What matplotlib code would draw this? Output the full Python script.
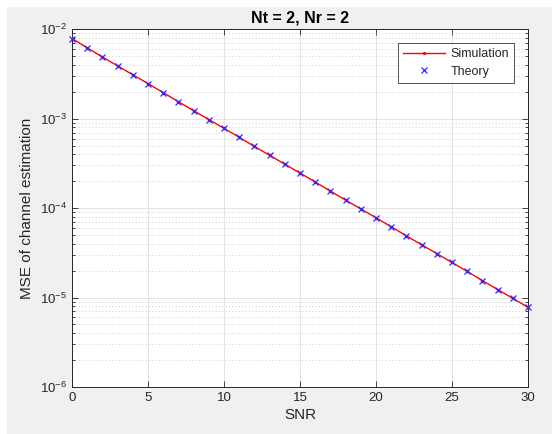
import matplotlib
matplotlib.use("Agg")
import matplotlib.pyplot as plt
from matplotlib.patches import Rectangle
from matplotlib.ticker import LogLocator, NullFormatter, FixedLocator

plt.rcParams['font.family'] = ['Liberation Sans', 'DejaVu Sans']

snr = list(range(0, 31))
sim = [7.9e-3, 6.2e-3, 4.9e-3, 3.9e-3, 3.1e-3, 2.47e-3, 1.96e-3, 1.55e-3, 1.23e-3, 9.8e-4,
       7.8e-4, 6.2e-4, 4.9e-4, 3.9e-4, 3.1e-4, 2.47e-4, 1.96e-4, 1.55e-4, 1.23e-4, 9.8e-5,
       7.8e-5, 6.2e-5, 4.9e-5, 3.9e-5, 3.1e-5, 2.47e-5, 1.96e-5, 1.55e-5, 1.23e-5, 9.8e-6,
       7.8e-6]
theory = [7.8e-3, 6.2e-3, 4.9e-3, 3.9e-3, 3.1e-3, 2.47e-3, 1.96e-3, 1.55e-3, 1.23e-3, 9.8e-4,
          7.8e-4, 6.2e-4, 4.9e-4, 3.9e-4, 3.1e-4, 2.47e-4, 1.96e-4, 1.55e-4, 1.23e-4, 9.8e-5,
          7.8e-5, 6.2e-5, 4.9e-5, 3.9e-5, 3.1e-5, 2.47e-5, 1.96e-5, 1.55e-5, 1.23e-5, 9.8e-6,
          7.8e-6]
xticks = [0, 5, 10, 15, 20, 25, 30]

W, H = 552, 434
fig = plt.figure(figsize=(W / 100, H / 100), dpi=100, facecolor='#f0f0f0')
# white borders on left and top
fig.patches.append(Rectangle((0, 0), 6 / W, 1, transform=fig.transFigure, color='white', zorder=-10))
fig.patches.append(Rectangle((0, 1 - 6 / H), 1, 6 / H, transform=fig.transFigure, color='white', zorder=-10))

left, right, top, bottom = 72, 528, 29.3, 387
ax = fig.add_axes([left / W, (H - bottom) / H, (right - left) / W, (bottom - top) / H])
ax.set_facecolor('white')

txtc = '#262626'
ax.plot(snr, sim, '-', color='red', marker='.', markersize=3, linewidth=1.0, label='Simulation', zorder=3)
ax.plot(snr, theory, 'x', color='#2a2aff', markersize=4.5, markeredgewidth=0.9, linestyle='none',
        label='Theory', zorder=4, clip_on=False)

ax.set_yscale('log')
ax.set_xlim(0, 30)
ax.set_ylim(1e-6, 1e-2)
ax.xaxis.set_major_locator(FixedLocator(xticks))
ax.yaxis.set_major_locator(LogLocator(base=10, numticks=10))
ax.yaxis.set_minor_locator(LogLocator(base=10, subs=range(2, 10), numticks=20))
ax.yaxis.set_minor_formatter(NullFormatter())

ax.grid(True, which='major', color='#dedede', linewidth=0.6, linestyle='-', zorder=0)
ax.grid(True, which='minor', axis='y', color='#c0c0c0', linewidth=0.6, linestyle=(0, (1, 3)), zorder=0)
ax.set_axisbelow(True)

ax.tick_params(which='both', direction='in', top=True, right=True, colors=txtc, labelsize=9.5, width=0.6)
ax.tick_params(which='major', length=4.5)
ax.tick_params(which='minor', length=2.5)
for s in ax.spines.values():
    s.set_color(txtc)
    s.set_linewidth(0.7)

ax.set_xlabel('SNR', fontsize=11, color=txtc, labelpad=3)
ax.set_ylabel('MSE of channel estimation', fontsize=11, color=txtc, labelpad=4)
ax.set_title('Nt = 2, Nr = 2', fontsize=11.5, fontweight='bold', color='black', pad=5)

leg = ax.legend(loc='upper right', bbox_to_anchor=(0.969, 0.962), borderaxespad=0,
                fontsize=9, frameon=True, fancybox=False, handlelength=3.4,
                handletextpad=0.4, labelspacing=0.45, borderpad=0.4, markerscale=0.9)
leg.get_frame().set_edgecolor(txtc)
leg.get_frame().set_linewidth(0.7)
for t in leg.get_texts():
    t.set_color(txtc)

fig.savefig('out.png', dpi=100, facecolor=fig.get_facecolor())
